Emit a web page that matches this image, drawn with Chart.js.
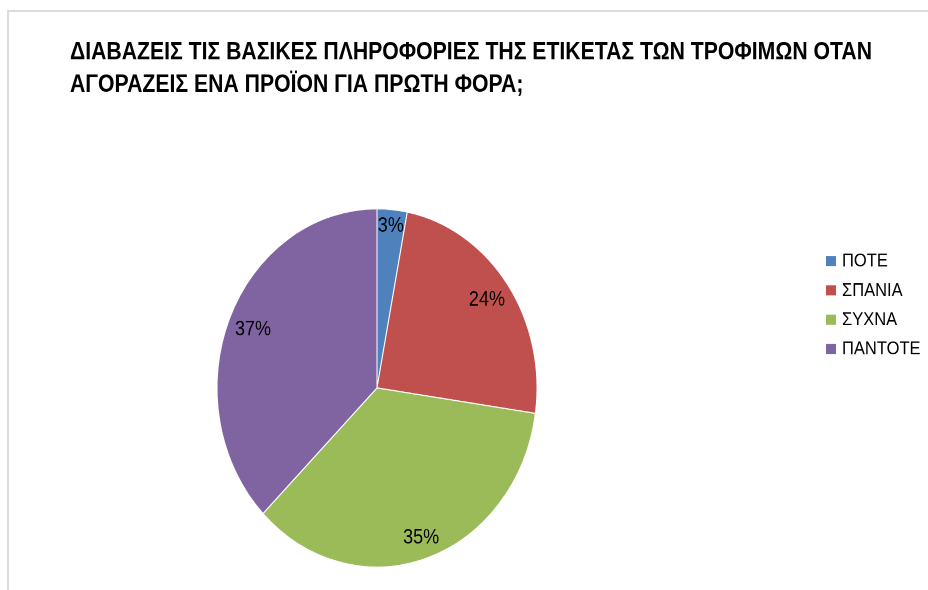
<!DOCTYPE html>
<html>
<head>
<meta charset="utf-8">
<script src="https://cdn.jsdelivr.net/npm/chart.js@4"></script>
<style>
  html, body { margin: 0; padding: 0; background: #ffffff; overflow: hidden; }
  #frame { position: absolute; left: 7px; top: 10px; width: 960px; height: 620px;
           border-left: 2px solid #dcdcdc; border-top: 2px solid #dcdcdc; box-sizing: border-box; }
  #wrap { position: absolute; left: 0; top: 0; width: 928px; height: 527px;
          transform: scaleY(1.1195); transform-origin: 0 0; }
</style>
</head>
<body>
<div id="frame"></div>
<div id="wrap"><canvas id="c" width="928" height="527" style="width:928px;height:527px"></canvas></div>
<script>
// Survey answers: how often the label is read when buying a product for the first time
const titleLines = [
  'ΔΙΑΒΑΖΕΙΣ ΤΙΣ ΒΑΣΙΚΕΣ ΠΛΗΡΟΦΟΡΙΕΣ ΤΗΣ ΕΤΙΚΕΤΑΣ ΤΩΝ ΤΡΟΦΙΜΩΝ ΟΤΑΝ',
  'ΑΓΟΡΑΖΕΙΣ ΕΝΑ ΠΡΟΪΟΝ ΓΙΑ ΠΡΩΤΗ ΦΟΡΑ;'
];
const answers = ['ΠΟΤΕ', 'ΣΠΑΝΙΑ', 'ΣΥΧΝΑ', 'ΠΑΝΤΟΤΕ'];
const percents = [3, 24, 35, 37];
const sliceColors = ['#4F81BD', '#C0504D', '#9BBB59', '#8064A2'];

const FONT = '"Liberation Sans", Arial, sans-serif';

// Title, percentage labels inside the slice ends and the legend on the right
const decorations = {
  id: 'decorations',
  afterDraw(chart) {
    const ctx = chart.ctx;
    ctx.save();
    // title, condensed to a fixed line width
    ctx.fillStyle = '#000000';
    ctx.font = 'bold 22px ' + FONT;
    ctx.textBaseline = 'alphabetic';
    ctx.textAlign = 'left';
    const lineWidth = 802;
    const sx = lineWidth / ctx.measureText(titleLines[0]).width;
    titleLines.forEach((line, i) => {
      ctx.save();
      ctx.translate(70, 53 + i * 29);
      ctx.scale(sx, 1);
      ctx.fillText(line, 0, 0);
      ctx.restore();
    });

    // percentage labels, placed at the inside end of each slice
    const meta = chart.getDatasetMeta(0);
    ctx.font = '18px ' + FONT;
    ctx.textAlign = 'center';
    ctx.textBaseline = 'middle';
    meta.data.forEach((arc, i) => {
      const p = arc.getProps(['x', 'y', 'startAngle', 'endAngle', 'outerRadius'], true);
      const mid = (p.startAngle + p.endAngle) / 2;
      const text = percents[i] + '%';
      const hw = ctx.measureText(text).width / 2;
      const hh = 7.5;
      const ext = Math.abs(hw * Math.cos(mid)) + Math.abs(hh * Math.sin(mid));
      const r = p.outerRadius - 6 - ext;
      ctx.fillText(text, p.x + r * Math.cos(mid), p.y + r * Math.sin(mid));
    });

    // legend
    ctx.font = '16.5px ' + FONT;
    ctx.textAlign = 'left';
    ctx.textBaseline = 'middle';
    answers.forEach((name, i) => {
      const cy = 233.1 + i * 26.2;
      ctx.fillStyle = sliceColors[i];
      ctx.fillRect(826, cy - 4.5, 10, 9);
      ctx.fillStyle = '#000000';
      ctx.fillText(name, 842, cy + 0.5);
    });
    ctx.restore();
  }
};

new Chart(document.getElementById('c'), {
  type: 'pie',
  data: {
    labels: answers,
    datasets: [{
      data: percents,
      backgroundColor: sliceColors,
      borderColor: '#ffffff',
      borderWidth: 1
    }]
  },
  options: {
    responsive: false,
    animation: false,
    devicePixelRatio: 2,
    events: [],
    layout: { padding: { left: 216.5, right: 390.5, top: 186, bottom: 20 } },
    plugins: {
      legend: { display: false },
      title: { display: false },
      tooltip: { enabled: false }
    }
  },
  plugins: [decorations]
});
</script>
</body>
</html>
